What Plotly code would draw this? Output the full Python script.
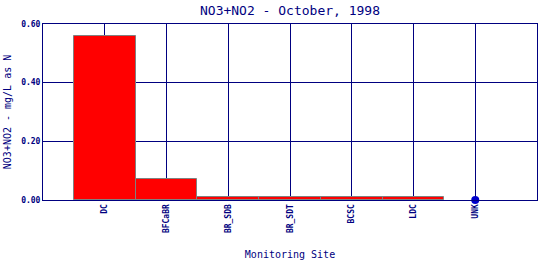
import plotly.graph_objects as go

sites = ["DC", "BFCaBR", "BR_SDB", "BR_SDT", "BCSC", "LDC"]
values = [0.56, 0.07, 0.009, 0.009, 0.009, 0.009]
dot_sites = ["UNK"]
dot_values = [0.0]
all_sites = sites + dot_sites
yticks = [0.0, 0.2, 0.4, 0.6]
ytick_text = ["0.00", "0.20", "0.40", "0.60"]

navy = "#000080"
font = "DejaVu Sans Mono"

fig = go.Figure()
fig.add_trace(go.Bar(x=sites, y=values, marker=dict(color="#ff0000",
                     line=dict(color="#808080", width=1)), width=1.0))
fig.add_trace(go.Scatter(x=dot_sites, y=dot_values, mode="markers",
                         marker=dict(color="#0000cc", size=8), cliponaxis=False))

fig.update_layout(
    width=540, height=260,
    margin=dict(l=43, r=3, t=24, b=60),
    plot_bgcolor="white", paper_bgcolor="white",
    showlegend=False, bargap=0,
    title=dict(text="NO3+NO2 - October, 1998", x=290/540, xanchor="center",
               y=1 - 10/260, yanchor="middle",
               font=dict(family=font, size=13, color=navy)),
    xaxis=dict(categoryorder="array", categoryarray=all_sites,
               range=[-1, 7], showgrid=True, gridcolor=navy, gridwidth=1,
               showline=True, linecolor=navy, linewidth=1, mirror=True,
               tickangle=-90, tickfont=dict(family=font, size=8, color=navy, weight="bold"),
               ticks="", ticklen=0, automargin=False,
               title=dict(text="Monitoring Site", standoff=19,
                          font=dict(family=font, size=10, color=navy))),
    yaxis=dict(range=[0, 0.6], tickvals=yticks, ticktext=ytick_text,
               showgrid=True, gridcolor=navy, gridwidth=1, zeroline=False,
               showline=True, linecolor=navy, linewidth=1, mirror=True,
               ticks="", tickfont=dict(family=font, size=8, color=navy, weight="bold"),
               automargin=False,
               title=dict(text="NO3+NO2 - mg/L as N", standoff=7,
                          font=dict(family=font, size=10, color=navy))),
)

fig.write_html("out.html")
